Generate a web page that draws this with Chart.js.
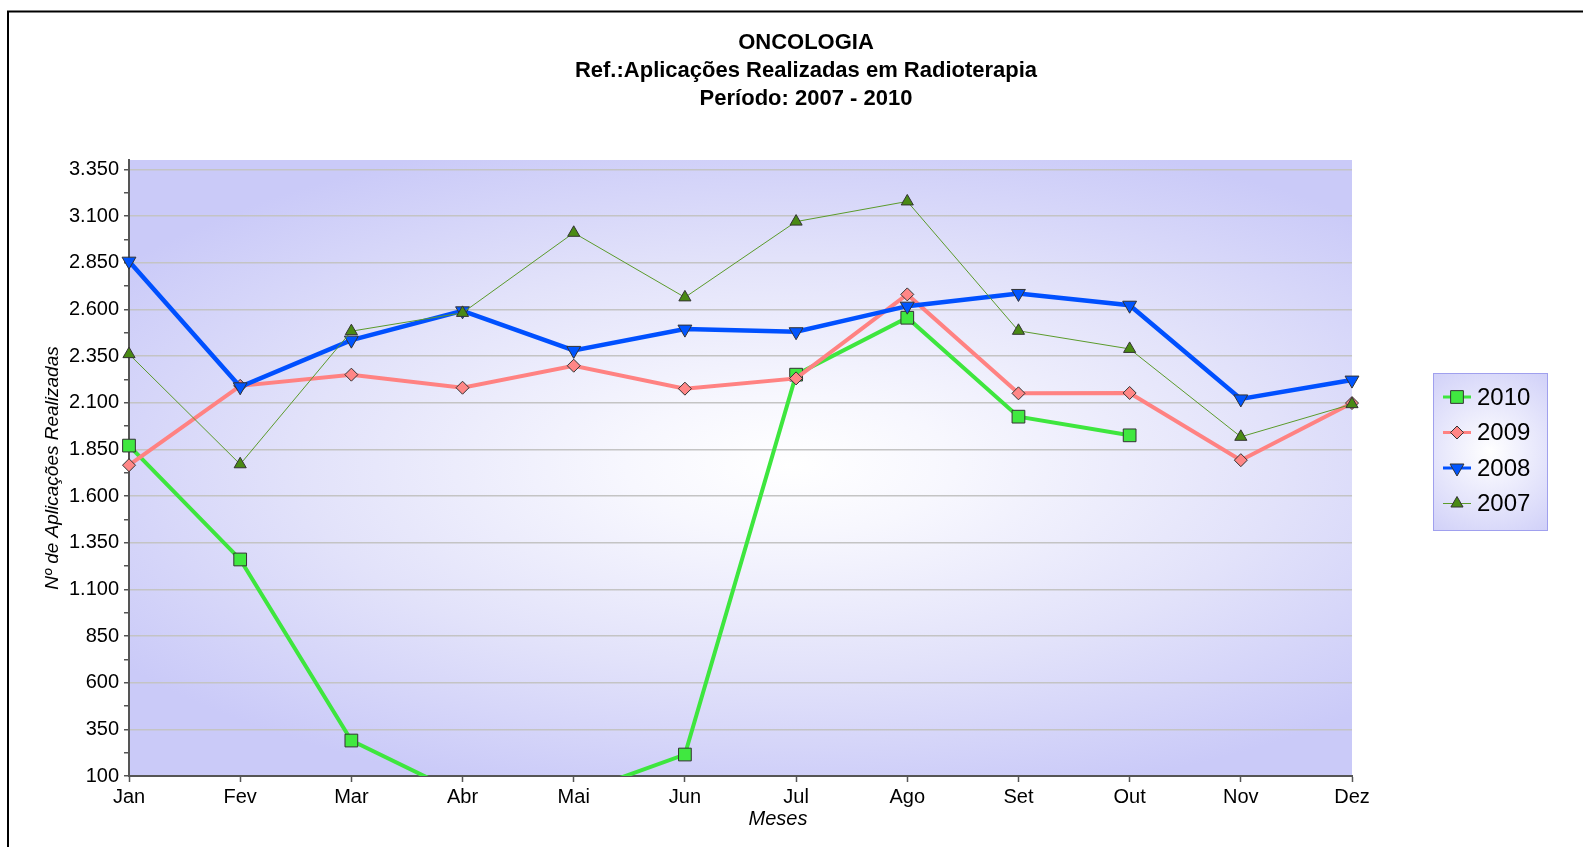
<!DOCTYPE html>
<html lang="pt-BR">
<head>
<meta charset="utf-8">
<title>Oncologia - Radioterapia</title>
<script src="https://cdn.jsdelivr.net/npm/chart.js@4.4.1/dist/chart.umd.min.js"></script>
<style>
  html, body { margin: 0; padding: 0; background: #fff; }
  #grafica { display: block; }
</style>
</head>
<body>
<canvas id="grafica" width="1583" height="847"></canvas>
<script>
// Dados
const meses = ['Jan', 'Fev', 'Mar', 'Abr', 'Mai', 'Jun', 'Jul', 'Ago', 'Set', 'Out', 'Nov', 'Dez'];
const anos = ['2010', '2009', '2008', '2007'];
const dados2010 = [1870, 1260, 290, 0, 0, 215, 2250, 2555, 2025, 1925, null, null];
const dados2009 = [1765, 2190, 2250, 2180, 2298, 2175, 2230, 2680, 2150, 2152, 1792, 2098];
const dados2008 = [2858, 2185, 2435, 2592, 2380, 2494, 2480, 2617, 2685, 2622, 2120, 2221];
const dados2007 = [2360, 1770, 2483, 2581, 3010, 2664, 3070, 3178, 2485, 2388, 1917, 2092];
const ticksMaiores = [100, 350, 600, 850, 1100, 1350, 1600, 1850, 2100, 2350, 2600, 2850, 3100, 3350];

const titulos = ['ONCOLOGIA', 'Ref.:Aplicações Realizadas em Radioterapia', 'Período: 2007 - 2010'];
const tituloX = 'Meses';
const tituloY = 'Nº de Aplicações Realizadas';

const fonte = '"Liberation Sans", Arial, sans-serif';

function formatar(v) {
    return String(v).replace(/\B(?=(\d{3})+(?!\d))/g, '.');
}

// Fundo da área do gráfico (degradê radial)
const fundoPlugin = {
    id: 'fundo',
    beforeDraw(chart) {
        const { ctx, chartArea: a } = chart;
        const cx = 790, cy = 465, sy = 0.42, R = 820;
        ctx.save();
        ctx.beginPath();
        ctx.rect(a.left, a.top, a.right - a.left, a.bottom - a.top);
        ctx.clip();
        ctx.translate(cx, cy);
        ctx.scale(1, sy);
        const g = ctx.createRadialGradient(0, 0, 0, 0, 0, R);
        g.addColorStop(0, '#ffffff');
        g.addColorStop(0.2, '#f7f7fe');
        g.addColorStop(0.6, '#e2e2fa');
        g.addColorStop(1, '#cacaf8');
        ctx.fillStyle = g;
        ctx.fillRect(a.left - cx, (a.top - cy) / sy, a.right - a.left, (a.bottom - a.top) / sy);
        ctx.restore();

        // moldura externa
        ctx.save();
        ctx.strokeStyle = '#000';
        ctx.lineWidth = 2;
        ctx.beginPath();
        ctx.moveTo(8, 900);
        ctx.lineTo(8, 11.5);
        ctx.lineTo(1700, 11.5);
        ctx.stroke();
        ctx.restore();
    }
};

// Títulos e legenda
const textosPlugin = {
    id: 'textos',
    afterDraw(chart) {
        const ctx = chart.ctx;
        ctx.save();
        ctx.fillStyle = '#000';
        ctx.textAlign = 'center';
        ctx.textBaseline = 'middle';
        ctx.font = 'bold 22px ' + fonte;
        titulos.forEach((t, i) => ctx.fillText(t, 806, 43 + i * 27.8));

        ctx.font = 'italic 20px ' + fonte;
        ctx.fillText(tituloX, 778, 819);

        // legenda
        const bx = 1433, by = 373, bw = 114, bh = 157;
        const g = ctx.createRadialGradient(bx + bw / 2, by + bh / 2, 0, bx + bw / 2, by + bh / 2, 100);
        g.addColorStop(0, '#ffffff');
        g.addColorStop(1, '#cfcff8');
        ctx.fillStyle = g;
        ctx.fillRect(bx, by, bw, bh);
        ctx.strokeStyle = '#a0a0ee';
        ctx.lineWidth = 1;
        ctx.strokeRect(bx + 0.5, by + 0.5, bw, bh);

        chart.data.datasets.forEach((ds, i) => {
            const y = 397 + i * 35.5;
            ctx.strokeStyle = ds.borderColor;
            ctx.lineWidth = Math.min(ds.borderWidth, 3);
            ctx.beginPath();
            ctx.moveTo(1443, y);
            ctx.lineTo(1471, y);
            ctx.stroke();
            ctx.fillStyle = ds.pointBackgroundColor;
            ctx.strokeStyle = ds.pointBorderColor;
            ctx.lineWidth = 1;
            Chart.helpers.drawPoint(ctx, {
                pointStyle: ds.pointStyle,
                rotation: ds.pointRotation || 0,
                radius: ds.pointRadius,
                borderWidth: 1
            }, 1457, y);
            ctx.fillStyle = '#000';
            ctx.textAlign = 'left';
            ctx.font = '24px ' + fonte;
            ctx.fillText(ds.label, 1477, y + 1);
        });
        ctx.restore();
    }
};

function serie(label, data, cor, largura, estilo, raio, corPonto, extra) {
    return Object.assign({
        label: label,
        data: data,
        borderColor: cor,
        borderWidth: largura,
        pointStyle: estilo,
        pointRadius: raio,
        pointHoverRadius: raio,
        pointBackgroundColor: corPonto,
        pointBorderColor: '#333333',
        pointBorderWidth: 1,
        tension: 0,
        spanGaps: false
    }, extra || {});
}

function setupChart() {
    const ctx = document.getElementById('grafica').getContext('2d');
    new Chart(ctx, {
        type: 'line',
        data: {
            labels: meses,
            datasets: [
                serie(anos[0], dados2010, '#3ee63e', 4, 'rect', 9, '#40e840', { order: 4 }),
                serie(anos[1], dados2009, '#ff8282', 4, 'rectRot', 6.5, '#ff8686', { order: 3 }),
                serie(anos[2], dados2008, '#0050ff', 4.5, 'triangle', 8, '#0055ff', { order: 2, pointRotation: 180 }),
                serie(anos[3], dados2007, '#5b9b2b', 1, 'triangle', 7, '#4a8a14', { order: 1 })
            ]
        },
        options: {
            responsive: false,
            animation: false,
            layout: { padding: { top: 160, right: 231, bottom: 0, left: 0 } },
            plugins: {
                legend: { display: false },
                title: { display: false },
                tooltip: { enabled: false }
            },
            scales: {
                x: {
                    type: 'category',
                    offset: false,
                    afterFit(s) { s.height = 71; },
                    grid: {
                        drawOnChartArea: false,
                        drawTicks: true,
                        tickLength: 6,
                        tickColor: '#555555',
                        tickWidth: 1.5
                    },
                    border: { display: true, color: '#555555', width: 2 },
                    ticks: {
                        color: '#000',
                        font: { family: fonte, size: 20 },
                        padding: 3,
                        maxRotation: 0,
                        autoSkip: false
                    },
                    title: { display: false }
                },
                y: {
                    min: 100,
                    max: 3400,
                    afterFit(s) { s.width = 129; },
                    afterBuildTicks(s) {
                        const t = [];
                        for (let v = 100; v <= 3350; v += 125) t.push({ value: v });
                        s.ticks = t;
                    },
                    grid: {
                        color: (c) => ticksMaiores.includes(c.tick && c.tick.value) ? '#c4c4c4' : 'rgba(0,0,0,0)',
                        lineWidth: 1.5,
                        drawTicks: true,
                        tickLength: 5,
                        tickColor: '#555555',
                        tickWidth: 1.5
                    },
                    border: { display: true, color: '#555555', width: 2 },
                    ticks: {
                        color: '#000',
                        font: { family: fonte, size: 20 },
                        padding: 5,
                        autoSkip: false,
                        callback: (v) => ticksMaiores.includes(v) ? formatar(v) : ''
                    },
                    title: {
                        display: true,
                        text: tituloY,
                        color: '#000',
                        font: { family: fonte, size: 19, style: 'italic' },
                        padding: { top: 41, bottom: 0 }
                    }
                }
            }
        },
        plugins: [fundoPlugin, textosPlugin]
    });
}

document.addEventListener('DOMContentLoaded', setupChart);
</script>
</body>
</html>
